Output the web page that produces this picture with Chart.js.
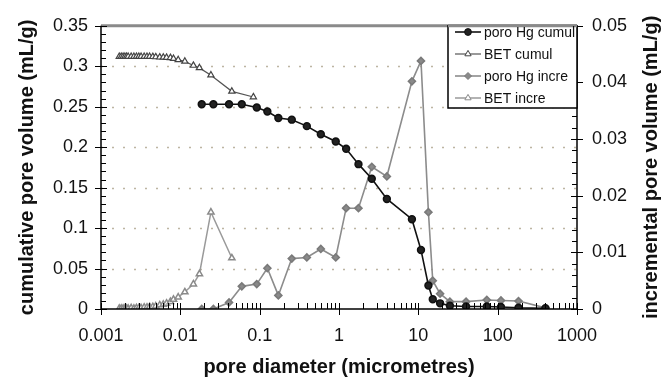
<!DOCTYPE html>
<html><head><meta charset="utf-8">
<script src="https://cdn.jsdelivr.net/npm/chart.js@4.4.1/dist/chart.umd.min.js"></script>
<style>html,body{margin:0;padding:0;background:#fff;}canvas{display:block;}</style>
</head><body>
<canvas id="c" width="662" height="383"></canvas>
<script>
// ---------- data ----------
const xTickValues = [0.001, 0.01, 0.1, 1, 10, 100, 1000];
const xTickLabels = ['0.001', '0.01', '0.1', '1', '10', '100', '1000'];
const yLeftTickValues = [0, 0.05, 0.1, 0.15, 0.2, 0.25, 0.3, 0.35];
const yLeftTickLabels = ['0', '0.05', '0.1', '0.15', '0.2', '0.25', '0.3', '0.35'];
const yRightTickValues = [0, 0.01, 0.02, 0.03, 0.04, 0.05];
const yRightTickLabels = ['0', '0.01', '0.02', '0.03', '0.04', '0.05'];

const seriesNames = ['poro Hg cumul', 'BET cumul', 'poro Hg incre', 'BET incre'];

// mercury porosimetry pore diameters (micrometres)
const hgDiameter = [0.0186, 0.0261, 0.0411, 0.0595, 0.0919, 0.125, 0.172, 0.254, 0.393, 0.59, 0.91, 1.23, 1.76, 2.59, 4.01, 8.3, 10.8, 13.4, 15.2, 18.8, 25, 40, 73, 110, 183, 400];
const hgCumul = [0.253, 0.253, 0.253, 0.253, 0.249, 0.244, 0.236, 0.234, 0.226, 0.216, 0.207, 0.198, 0.179, 0.161, 0.136, 0.111, 0.073, 0.029, 0.012, 0.007, 0.004, 0.003, 0.003, 0.0025, 0.0015, 0.001];
const hgIncre = [0, 0, 0.00115, 0.004, 0.0044, 0.0072, 0.0024, 0.0089, 0.0091, 0.0106, 0.0091, 0.0178, 0.0178, 0.0251, 0.0234, 0.0402, 0.0438, 0.0171, 0.005, 0.0027, 0.0013, 0.0013, 0.0016, 0.0015, 0.0014, 0.0002];

// BET pore diameters (micrometres)
const betDiameter = [0.0017, 0.0018, 0.0019, 0.0020, 0.0021, 0.0022, 0.0024, 0.0026, 0.0028, 0.0030, 0.0032, 0.0035, 0.0038, 0.0041, 0.0045, 0.0049, 0.0055, 0.0061, 0.0067, 0.0075, 0.0082, 0.0094, 0.0114, 0.0146, 0.0174, 0.0243, 0.0446, 0.0833];
const betCumul = [0.312, 0.312, 0.312, 0.312, 0.312, 0.312, 0.312, 0.312, 0.312, 0.312, 0.312, 0.312, 0.312, 0.312, 0.3118, 0.3115, 0.3112, 0.311, 0.3108, 0.3105, 0.3095, 0.308, 0.306, 0.301, 0.298, 0.289, 0.269, 0.262];
const betIncre = [0.0001, 0.0001, 0.0001, 0.0001, 0.0001, 0.0001, 0.0002, 0.0001, 0.0002, 0.0002, 0.0002, 0.0003, 0.0003, 0.0004, 0.0004, 0.0005, 0.0007, 0.0008, 0.001, 0.0013, 0.0017, 0.0021, 0.003, 0.0044, 0.0062, 0.0171, 0.009];

const FONT = '"Liberation Sans", Arial, sans-serif';
const pts = (xs, ys) => ys.map((v, i) => ({x: xs[i], y: v}));

// ---------- plugins ----------
const decor = {
  id: 'decor',
  beforeDatasetsDraw(chart) {
    const ctx = chart.ctx, a = chart.chartArea, yl = chart.scales.y;
    ctx.save();
    ctx.strokeStyle = '#bdb5a2';
    ctx.lineWidth = 1.5;
    ctx.setLineDash([2, 9]);
    yLeftTickValues.forEach(v => {
      if (v <= 0 || v >= 0.35) return;
      const y = Math.round(yl.getPixelForValue(v)) + 0.5;
      ctx.beginPath(); ctx.moveTo(a.left, y); ctx.lineTo(a.right, y); ctx.stroke();
    });
    ctx.restore();
  },
  afterDraw(chart) {
    const ctx = chart.ctx, a = chart.chartArea;
    const xs = chart.scales.x, yl = chart.scales.y, yr = chart.scales.y1;
    const line = (x1, y1, x2, y2) => { ctx.beginPath(); ctx.moveTo(x1, y1); ctx.lineTo(x2, y2); ctx.stroke(); };
    ctx.save();
    // top border
    ctx.strokeStyle = '#8a8a8a'; ctx.lineWidth = 3;
    line(a.left, a.top, a.right, a.top);
    ctx.strokeStyle = '#000'; ctx.lineWidth = 1.5;
    line(a.left, a.top, a.left, a.bottom);
    line(a.right, a.top, a.right, a.bottom);
    line(a.left, a.bottom, a.right, a.bottom);
    ctx.lineWidth = 1;
    // left ticks
    for (let i = 0; i <= 35; i++) {
      const y = Math.round(yl.getPixelForValue(i / 100)) + 0.5;
      if (i % 5 === 0) line(a.left - 6, y, a.left + 6, y); else line(a.left, y, a.left + 5, y);
    }
    // right ticks
    for (let i = 0; i <= 25; i++) {
      const y = Math.round(yr.getPixelForValue(i * 0.002)) + 0.5;
      if (i % 5 === 0) line(a.right - 6, y, a.right + 6, y); else line(a.right - 5, y, a.right, y);
    }
    // x ticks
    xTickValues.forEach((v, k) => {
      const x = Math.round(xs.getPixelForValue(v)) + 0.5;
      line(x, a.bottom - 6, x, a.bottom + 6);
      if (k < xTickValues.length - 1) {
        for (let m = 2; m <= 9; m++) {
          const xm = Math.round(xs.getPixelForValue(v * m)) + 0.5;
          line(xm, a.bottom - 6, xm, a.bottom);
        }
      }
    });
    // right axis title (reads bottom to top)
    ctx.fillStyle = '#111';
    ctx.font = 'bold 20px ' + FONT;
    ctx.textAlign = 'center'; ctx.textBaseline = 'middle';
    ctx.translate(651, (a.top + a.bottom) / 2);
    ctx.rotate(-Math.PI / 2);
    ctx.fillText('incremental pore volume (mL/g)', 0, 0);
    ctx.restore();

    // legend
    ctx.save();
    const L = 448, T = a.top, R = a.right, B = 108;
    ctx.fillStyle = '#fff';
    ctx.fillRect(L, T, R - L, B - T);
    ctx.strokeStyle = '#000'; ctx.lineWidth = 1.5;
    ctx.strokeRect(L, T, R - L, B - T);
    ctx.strokeStyle = '#8a8a8a'; ctx.lineWidth = 3;
    line(L, T, R, T);
    ctx.font = '14px ' + FONT;
    ctx.textAlign = 'left'; ctx.textBaseline = 'middle';
    chart.data.datasets.forEach((ds, i) => {
      const y = 32 + i * 22;
      ctx.strokeStyle = ds.borderColor; ctx.lineWidth = ds.borderWidth;
      line(455, y, 481, y);
      ctx.fillStyle = ds.pointBackgroundColor; ctx.strokeStyle = ds.pointBorderColor; ctx.lineWidth = 1;
      Chart.helpers.drawPoint(ctx, {pointStyle: ds.pointStyle, radius: ds.pointRadius, rotation: 0, borderWidth: 1}, 468, y);
      ctx.fillStyle = '#111';
      ctx.fillText(ds.label, 484, y + 1);
    });
    ctx.restore();
  }
};

// ---------- chart ----------
new Chart(document.getElementById('c'), {
  type: 'line',
  data: {
    datasets: [
      {label: seriesNames[0], data: pts(hgDiameter, hgCumul), yAxisID: 'y',
       borderColor: '#111', borderWidth: 1.6, pointStyle: 'circle', pointRadius: 3.4,
       pointBackgroundColor: '#222', pointBorderColor: '#111', order: 0},
      {label: seriesNames[1], data: pts(betDiameter, betCumul), yAxisID: 'y',
       borderColor: '#555', borderWidth: 1.2, pointStyle: 'triangle', pointRadius: 3.6,
       pointBackgroundColor: '#fff', pointBorderColor: '#444', order: 1},
      {label: seriesNames[2], data: pts(hgDiameter, hgIncre), yAxisID: 'y1',
       borderColor: '#8c8c8c', borderWidth: 1.6, pointStyle: 'rectRot', pointRadius: 3.5,
       pointBackgroundColor: '#8a8a8a', pointBorderColor: '#7a7a7a', order: 2},
      {label: seriesNames[3], data: pts(betDiameter, betIncre), yAxisID: 'y1',
       borderColor: '#9a9a9a', borderWidth: 1.5, pointStyle: 'triangle', pointRadius: 3.6,
       pointBackgroundColor: '#fff', pointBorderColor: '#8a8a8a', order: 3}
    ]
  },
  options: {
    responsive: false, animation: false, devicePixelRatio: 1,
    layout: {padding: {top: 19, left: 0, right: 0, bottom: 0}},
    elements: {line: {tension: 0}, point: {borderWidth: 1}},
    plugins: {legend: {display: false}, tooltip: {enabled: false}},
    scales: {
      x: {
        type: 'logarithmic', min: 0.001, max: 1000,
        afterBuildTicks: s => { s.ticks = xTickValues.map(v => ({value: v})); },
        afterFit: s => { s.height = 74; },
        grid: {display: false, drawTicks: false}, border: {display: false},
        ticks: {padding: 16, color: '#111', font: {family: FONT, size: 18},
                autoSkip: false, maxRotation: 0,
                callback: (v) => { const i = xTickValues.indexOf(v); return i >= 0 ? xTickLabels[i] : ''; }},
        title: {display: true, text: 'pore diameter (micrometres)', color: '#111',
                font: {family: FONT, size: 20, weight: 'bold'}, padding: {top: 0, bottom: 4}}
      },
      y: {
        position: 'left', min: 0, max: 0.35,
        afterBuildTicks: s => { s.ticks = yLeftTickValues.map(v => ({value: v})); },
        afterFit: s => { s.width = 101; },
        grid: {display: false, drawTicks: false}, border: {display: false},
        ticks: {padding: 13, color: '#111', font: {family: FONT, size: 18},
                callback: (v) => { const i = yLeftTickValues.findIndex(t => Math.abs(t - v) < 1e-9); return i >= 0 ? yLeftTickLabels[i] : ''; }},
        title: {display: true, text: 'cumulative pore volume (mL/g)', color: '#111',
                font: {family: FONT, size: 20, weight: 'bold'}, padding: {top: 15, bottom: 0}}
      },
      y1: {
        position: 'right', min: 0, max: 0.05,
        afterBuildTicks: s => { s.ticks = yRightTickValues.map(v => ({value: v})); },
        afterFit: s => { s.width = 85; },
        grid: {display: false, drawTicks: false}, border: {display: false},
        ticks: {padding: 15, color: '#111', font: {family: FONT, size: 18},
                callback: (v) => { const i = yRightTickValues.findIndex(t => Math.abs(t - v) < 1e-9); return i >= 0 ? yRightTickLabels[i] : ''; }}
      }
    }
  },
  plugins: [decor]
});
</script>
</body></html>
